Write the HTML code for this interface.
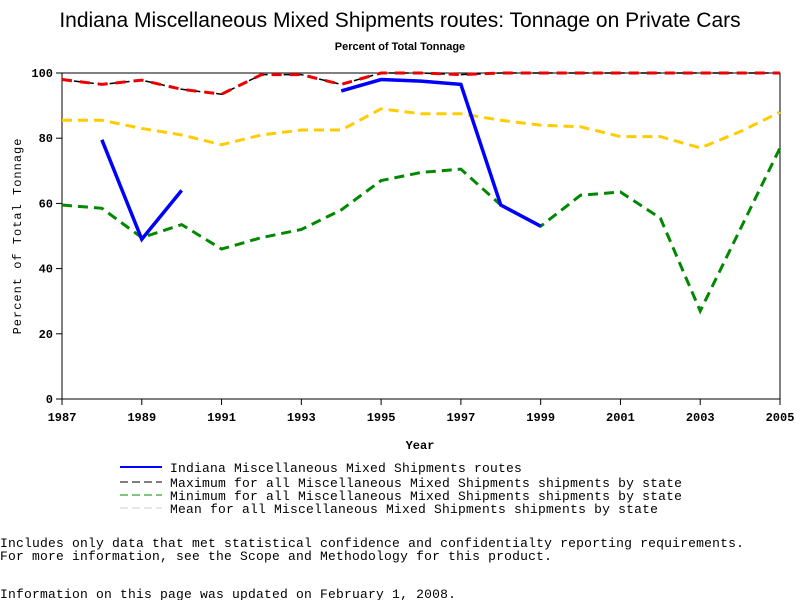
<!DOCTYPE html>
<html><head><meta charset="utf-8"><style>
body{margin:0;background:#fff;width:800px;height:600px;overflow:hidden;font-family:"Liberation Mono",monospace}
svg text{font-family:"Liberation Sans",sans-serif}
</style></head><body>
<svg id="c" width="800" height="600">
<text x="400" y="27" text-anchor="middle" font-size="21">Indiana Miscellaneous Mixed Shipments routes: Tonnage on Private Cars</text>
<text x="400" y="50" text-anchor="middle" font-size="11" font-weight="bold">Percent of Total Tonnage</text>
<rect x="62" y="73" width="718" height="326" fill="none" stroke="#000"/>
<g id="axes"></g><g id="series"></g>
<text x="420" y="449" text-anchor="middle" font-size="12" font-weight="bold" style="font-family:'Liberation Mono'">Year</text>
<text transform="translate(21,236) rotate(-90)" text-anchor="middle" font-size="12" style="font-family:'Liberation Mono';letter-spacing:1px">Percent of Total Tonnage</text>
<g font-size="13" style="font-family:'Liberation Mono';letter-spacing:0.2px">
<g><line x1="120" y1="467" x2="162" y2="467" stroke="#00f" stroke-width="2"/><text x="170" y="472" style="font-family:'Liberation Mono'">Indiana Miscellaneous Mixed Shipments routes</text></g>
<g><line x1="120" y1="482" x2="162" y2="482" stroke="#000" stroke-dasharray="8,4"/><text x="170" y="487" style="font-family:'Liberation Mono'">Maximum for all Miscellaneous Mixed Shipments shipments by state</text></g>
<g><line x1="120" y1="495" x2="162" y2="495" stroke="#080" stroke-dasharray="8,4"/><text x="170" y="500" style="font-family:'Liberation Mono'">Minimum for all Miscellaneous Mixed Shipments shipments by state</text></g>
<g><line x1="120" y1="508" x2="162" y2="508" stroke="#ccc" stroke-dasharray="8,4"/><text x="170" y="513" style="font-family:'Liberation Mono'">Mean for all Miscellaneous Mixed Shipments shipments by state</text></g>
</g>
<g font-size="13" style="letter-spacing:0.2px">
<text x="0" y="547" style="font-family:'Liberation Mono'">Includes only data that met statistical confidence and confidentialty reporting requirements.</text>
<text x="0" y="560" style="font-family:'Liberation Mono'">For more information, see the Scope and Methodology for this product.</text>
<text x="0" y="598" style="font-family:'Liberation Mono'">Information on this page was updated on February 1, 2008.</text>
</g>
</svg>
<script>
const years=[1987,1988,1989,1990,1991,1992,1993,1994,1995,1996,1997,1998,1999,2000,2001,2002,2003,2004,2005];
const xTicks=[1987,1989,1991,1993,1995,1997,1999,2001,2003,2005];
const yTicks=[0,20,40,60,80,100];
const maxVals=[98,96.5,97.8,95,93.5,99.5,99.5,96.5,100,100,99.5,100,100,100,100,100,100,100,100];
const meanVals=[85.5,85.5,83,81,78,81,82.5,82.5,89,87.5,87.5,85.5,84,83.5,80.5,80.5,77,82,88];
const minVals=[59.5,58.5,49.5,53.5,46,49.5,52,58,67,69.5,70.5,59.5,53,62.5,63.5,55.5,27,52,77];
const indVals=[null,79.5,49,64,null,null,null,94.5,98,97.5,96.5,59.5,53,null,null,null,null,null,null];
const X=y=>62+(y-1987)*718/18, Y=v=>399-v*3.26;
const NS="http://www.w3.org/2000/svg";
const ax=document.getElementById('axes'), sg=document.getElementById('series');
function mk(t,a,p){const e=document.createElementNS(NS,t);for(const k in a)e.setAttribute(k,a[k]);p.appendChild(e);return e;}
xTicks.forEach(y=>{
 const l=mk('line',{x1:X(y),x2:X(y),y1:399,y2:405,stroke:'#000'},ax);
 
 
 const t=mk('text',{x:X(y),y:421,'text-anchor':'middle','font-size':12,'font-weight':'bold',style:"font-family:'Liberation Mono'"},ax);t.textContent=y;
 
 
});
yTicks.forEach(v=>{
 const l=mk('line',{x1:56,x2:62,y1:Y(v),y2:Y(v),stroke:'#000'},ax);
 
 
 const t=mk('text',{x:53,y:Y(v)+4,'text-anchor':'end','font-size':12,'font-weight':'bold',style:"font-family:'Liberation Mono'"},ax);t.textContent=v;
 
 
});
function draw(vals,color,dash,w,name){
 let segs=[],cur=[];
 vals.forEach((v,i)=>{if(v==null){if(cur.length)segs.push(cur);cur=[];}else cur.push(X(years[i])+','+Y(v));});
 if(cur.length)segs.push(cur);
 segs.forEach(s=>{const p=mk('polyline',{points:s.join(' '),fill:'none',stroke:color,'stroke-width':w,'stroke-dasharray':dash},sg);
 
 });
}
draw(maxVals,'#000','8,4',1.5,'max-line-black');
draw(maxVals,'#e00','10,8',3,'max-line');
draw(meanVals,'#fc0','10,6',3,'mean-line');
draw(minVals,'#080','10,6',3,'min-line');
draw(indVals,'#00f','',3.5,'indiana-line');
</script>
</body></html>
